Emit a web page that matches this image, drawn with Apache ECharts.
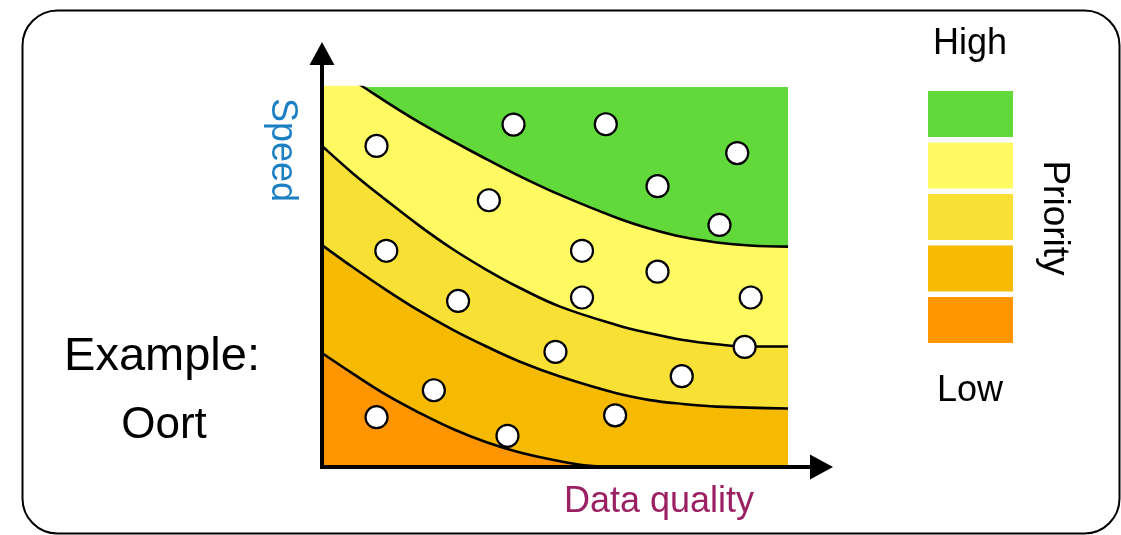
<!DOCTYPE html>
<html>
<head>
<meta charset="utf-8">
<script src="https://cdn.jsdelivr.net/npm/echarts@6/dist/echarts.min.js"></script>
<style>
  html, body { margin: 0; padding: 0; background: #ffffff; }
  #chart { width: 1121px; height: 535px; }
</style>
</head>
<body>
<div id="chart"></div>
<script>
// Priority bands, from highest (top right) to lowest (bottom left)
const priorityLevels = ['Very high', 'High', 'Medium', 'Low', 'Very low'];
const bandColors = ['#62d93a', '#fffa62', '#f9e034', '#f6ba00', '#ff9500'];

// Boundary curves between neighbouring bands: [data quality, speed]
const boundaryHigh = [[0, 107.5], [8.9, 100], [21.0, 90.6], [35.3, 81.0], [42.5, 76.5], [51.1, 71.6],
  [63.2, 65.6], [70.4, 62.7], [77.5, 60.5], [84.7, 59.1], [91.8, 58.3], [100, 58.0]];
const boundaryMidHigh = [[0, 84.5], [6.7, 77.2], [13.9, 70.1], [21.0, 63.4], [28.1, 57.3], [35.3, 51.9],
  [42.5, 47.1], [51.1, 42.2], [63.2, 37.4], [70.4, 35.2], [77.5, 33.4],
  [84.7, 32.3], [91.8, 31.7], [100, 31.7]];
const boundaryMidLow = [[0, 58.4], [6.7, 52.5], [13.9, 46.5], [21.0, 41.0], [28.1, 36.1], [35.3, 31.7],
  [42.5, 27.7], [51.1, 23.8], [63.2, 19.4], [70.4, 17.6], [77.5, 16.6],
  [84.7, 15.9], [100, 15.4]];
const boundaryLow = [[0, 30.0], [6.7, 24.5], [13.9, 18.9], [21.0, 14.2], [28.1, 10.0], [35.3, 6.5],
  [42.5, 3.8], [51.1, 1.5], [57.5, 0.3], [64, 0]];
const topEdge = [[0, 100], [100, 100]];

// Clients: data quality and speed
const clientQuality = [11.7, 41.1, 60.9, 89.1, 72.0, 85.3, 35.8, 13.8, 55.8, 72.0,
  29.2, 55.8, 92.0, 50.1, 90.7, 77.2, 24.0, 11.7, 39.8, 62.9];
const clientSpeed = [84.5, 90.1, 90.2, 82.6, 73.9, 63.7, 70.2, 56.9, 56.9, 51.4,
  43.7, 44.6, 44.6, 30.3, 31.6, 23.9, 20.2, 13.1, 8.2, 13.6];

// Legend text
const legendTop = 'High';
const legendBottom = 'Low';
const legendTitle = 'Priority';
const xTitle = 'Data quality';
const yTitle = 'Speed';
const captionLines = ['Example:', 'Oort'];

const FONT = '"Liberation Sans", Arial, Helvetica, sans-serif';

// Arrow head with a short stem, pointing up before the axis rotates it
const arrowPath = 'path://M12.5,0 L25,23 L14.5,23 L14.5,45 L10.5,45 L10.5,23 L0,23 Z';

function axisCommon() {
  return {
    type: 'value',
    min: 0,
    max: 100,
    z: 5,
    axisLine: {
      show: true,
      onZero: false,
      symbol: ['none', arrowPath],
      symbolSize: [25, 45],
      symbolOffset: [0, 22.5],
      lineStyle: { color: '#000', width: 4, cap: 'square' }
    },
    axisTick: { show: false },
    axisLabel: { show: false },
    splitLine: { show: false }
  };
}

function band(name, data, color, withLine) {
  return {
    name: name,
    type: 'line',
    data: data,
    smooth: 0.4,
    symbol: 'none',
    silent: true,
    clip: true,
    itemStyle: { color: color },
    lineStyle: withLine ? { color: '#000', width: 2.6 } : { width: 0, color: color },
    areaStyle: { color: color, opacity: 1, origin: 'start' },
    z: 2
  };
}

const boundaries = [boundaryHigh, boundaryMidHigh, boundaryMidLow, boundaryLow];
const series = [band(priorityLevels[0], topEdge, bandColors[0], false)];
boundaries.forEach(function (b, i) {
  series.push(band(priorityLevels[i + 1], b, bandColors[i + 1], true));
});
series.push({
  name: 'Clients',
  type: 'scatter',
  data: clientQuality.map(function (q, i) { return [q, clientSpeed[i]]; }),
  symbol: 'circle',
  symbolSize: 22,
  itemStyle: { color: '#ffffff', borderColor: '#000000', borderWidth: 2.2, opacity: 1 },
  z: 10
});

// Legend swatches, stacked from high to low priority
const swatchTop = 91, swatchStep = 51.5, swatchH = 46;
const graphics = [
  {
    type: 'rect',
    shape: { x: 22.5, y: 10.5, width: 1097, height: 523, r: 35 },
    style: { fill: 'none', stroke: '#000', lineWidth: 2 },
    z: -1
  }
];
bandColors.forEach(function (c, i) {
  graphics.push({
    type: 'rect',
    shape: { x: 928, y: swatchTop + i * swatchStep, width: 85, height: swatchH },
    style: { fill: c }
  });
});
function label(text, x, y, size, color, rotation) {
  return {
    type: 'text',
    x: x, y: y,
    rotation: rotation || 0,
    style: { text: text, font: size + 'px ' + FONT, fill: color, align: 'center', verticalAlign: 'middle' }
  };
}
graphics.push(label(legendTop, 970, 44, 36, '#000'));
graphics.push(label(legendBottom, 970, 391, 36, '#000'));
graphics.push(label(legendTitle, 1054, 218, 37, '#000', -Math.PI / 2));
graphics.push(label(yTitle, 282, 150, 36, '#1b7fc3', -Math.PI / 2));
graphics.push(label(xTitle, 659, 502, 36, '#9b1f63'));
graphics.push(label(captionLines[0], 162, 357, 47, '#000'));
graphics.push(label(captionLines[1], 164, 426, 44, '#000'));

const chart = echarts.init(document.getElementById('chart'), null, { renderer: 'canvas' });
chart.setOption({
  backgroundColor: '#ffffff',
  animation: false,
  grid: { left: 322, right: 333, top: 87, bottom: 68, containLabel: false },
  xAxis: Object.assign(axisCommon(), { position: 'bottom' }),
  yAxis: Object.assign(axisCommon(), { position: 'left' }),
  series: series,
  graphic: graphics
});
</script>
</body>
</html>
